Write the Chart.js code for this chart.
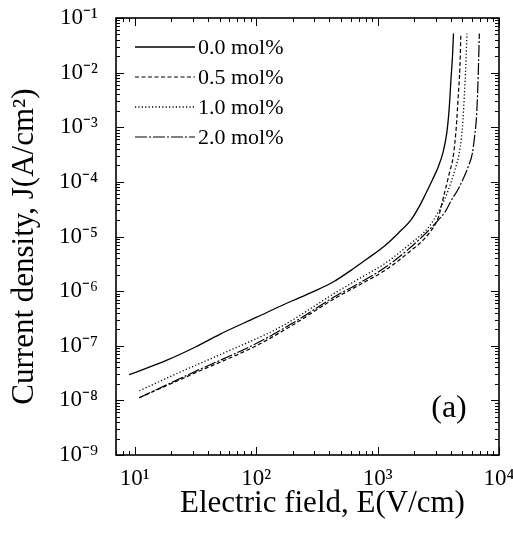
<!DOCTYPE html>
<html>
<head>
<meta charset="utf-8">
<script src="https://cdn.jsdelivr.net/npm/chart.js@4.4.1/dist/chart.umd.min.js"></script>
<style>
  html, body { margin: 0; padding: 0; background: #fff; }
  #wrap { width: 513px; height: 534px; }
</style>
</head>
<body>
<div id="wrap"><canvas id="jeChart" width="513" height="534"></canvas></div>
<script>
// legend names and axis titles
const seriesLabels = ['0.0 mol%', '0.5 mol%', '1.0 mol%', '2.0 mol%'];
const xTitle = 'Electric field, E(V/cm)';
const yTitle = 'Current density, J(A/cm²)';

// E (V/cm) / J (A/cm^2)
const e00 = [8.97, 18.2, 31.6, 50.1, 100, 178, 302, 437, 603, 832, 1148, 1479, 1905, 2239, 2512, 2818, 3162, 3467, 3715, 3890, 4027, 4140, 4217];
const j00 = [2.95e-8, 5.4e-8, 9.5e-8, 1.62e-7, 3.3e-7, 6.0e-7, 1.0e-6, 1.5e-6, 2.4e-6, 4.0e-6, 6.8e-6, 1.15e-5, 2.09e-5, 3.8e-5, 6.3e-5, 1.07e-4, 1.9e-4, 3.55e-4, 7.9e-4, 2.24e-3, 7.9e-3, 2.0e-2, 5.2e-2];

const e05 = [10.9, 31.6, 100, 200, 437, 708, 1148, 1778, 2630, 3162, 3467, 3890, 4217, 4446, 4624, 4764, 4853];
const j05 = [1.12e-8, 3.2e-8, 1.0e-7, 2.4e-7, 7.2e-7, 1.3e-6, 2.4e-6, 5.0e-6, 1.12e-5, 2.24e-5, 5.0e-5, 1.41e-4, 3.16e-4, 1.0e-3, 3.98e-3, 1.26e-2, 5.2e-2];

const e10 = [10.9, 25.1, 57.5, 158, 437, 708, 1148, 1778, 2630, 3162, 3597, 4074, 4416, 4699, 4898, 5047, 5188, 5321, 5445];
const j10 = [1.5e-8, 3.5e-8, 7.8e-8, 2.2e-7, 9.0e-7, 1.7e-6, 3.2e-6, 6.8e-6, 1.48e-5, 2.82e-5, 5.0e-5, 1.07e-4, 1.9e-4, 3.3e-4, 6.3e-4, 1.35e-3, 3.98e-3, 1.26e-2, 5.2e-2];

const e20 = [10.9, 31.6, 100, 200, 437, 708, 1148, 1778, 2630, 3162, 3597, 4074, 4571, 5129, 5623, 6026, 6310, 6531, 6683, 6792, 6887];
const j20 = [1.12e-8, 3.4e-8, 1.1e-7, 2.6e-7, 7.8e-7, 1.41e-6, 2.7e-6, 5.75e-6, 1.29e-5, 2.0e-5, 2.82e-5, 4.7e-5, 7.1e-5, 1.2e-4, 2.0e-4, 3.3e-4, 7.1e-4, 1.58e-3, 5.0e-3, 1.58e-2, 5.2e-2];

// decade ticks and their labels
const xDecades = [1e1, 1e2, 1e3, 1e4];
const xTickLabels = ['10¹', '10²', '10³', '10⁴'];
const yDecades = [1e-9, 1e-8, 1e-7, 1e-6, 1e-5, 1e-4, 1e-3, 1e-2, 1e-1];
const yTickLabels = ['10⁻⁹', '10⁻⁸', '10⁻⁷', '10⁻⁶', '10⁻⁵', '10⁻⁴', '10⁻³', '10⁻²', '10⁻¹'];

const serif = "'Liberation Serif', 'Times New Roman', serif";

function pts(xs, ys) {
  return xs.map((x, i) => ({ x: x, y: ys[i] }));
}

// decades + 2..9 minor ticks inside [min, max]
function logTicks(scale) {
  const list = [];
  const lo = scale.min, hi = scale.max;
  const first = Math.floor(Math.log10(lo)), last = Math.ceil(Math.log10(hi));
  for (let p = first; p <= last; p++) {
    for (let m = 1; m <= 9; m++) {
      const v = m * Math.pow(10, p);
      if (v >= lo * 0.999 && v <= hi * 1.001) list.push({ value: v, major: m === 1 });
    }
  }
  scale.ticks = list;
}

function decadeLabel(value, decades, labels) {
  for (let i = 0; i < decades.length; i++) {
    if (Math.abs(value / decades[i] - 1) < 1e-6) return labels[i];
  }
  return '';
}

// labels may hang over the edges, keep the plot box where it is
function noOverhang(s) {
  s.paddingTop = 0; s.paddingBottom = 0;
  s.paddingLeft = 0; s.paddingRight = 0;
}

// frame, inward tick marks on all four sides, legend, axis titles, panel tag
const frameTicks = {
  id: 'frameTicks',
  afterDraw(chart) {
    const { ctx, chartArea: a, scales } = chart;
    ctx.save();
    ctx.strokeStyle = '#000';
    ctx.lineWidth = 1;
    scales.x.ticks.forEach(t => {
      const px = Math.round(scales.x.getPixelForValue(t.value)) + 0.5;
      const len = t.major ? 8 : 4;
      ctx.beginPath();
      ctx.moveTo(px, a.bottom); ctx.lineTo(px, a.bottom - len);
      ctx.moveTo(px, a.top); ctx.lineTo(px, a.top + len);
      ctx.stroke();
    });
    scales.y.ticks.forEach(t => {
      const py = Math.round(scales.y.getPixelForValue(t.value)) + 0.5;
      const len = t.major ? 8 : 4;
      ctx.beginPath();
      ctx.moveTo(a.left, py); ctx.lineTo(a.left + len, py);
      ctx.moveTo(a.right, py); ctx.lineTo(a.right - len, py);
      ctx.stroke();
    });
    ctx.lineWidth = 1.6;
    ctx.strokeRect(a.left, a.top, a.right - a.left, a.bottom - a.top);

    ctx.font = '22px ' + serif;
    ctx.textBaseline = 'middle';
    ctx.fillStyle = '#000';
    chart.data.datasets.forEach((ds, i) => {
      const y = a.top + 29 + i * 30;
      const x0 = a.left + 19;
      ctx.lineWidth = ds.borderWidth;
      ctx.setLineDash(ds.borderDash || []);
      ctx.beginPath();
      ctx.moveTo(x0, y); ctx.lineTo(x0 + 60, y);
      ctx.stroke();
      ctx.setLineDash([]);
      ctx.fillText(ds.label, x0 + 63, y + 1);
    });

    ctx.font = '32px ' + serif;
    ctx.textAlign = 'center';
    ctx.fillText('(a)', a.right - 50, a.bottom - 46);

    // axis titles sit a bit off the box centre in the original
    ctx.font = '31px ' + serif;
    ctx.fillText(xTitle, (a.left + a.right) / 2 + 15, a.bottom + 49);
    ctx.translate(a.left - 91, (a.top + a.bottom) / 2 + 10);
    ctx.rotate(-Math.PI / 2);
    ctx.fillText(yTitle, 0, 0);
    ctx.restore();
  }
};

const styles = [
  { dash: [], width: 1.3 },
  { dash: [4, 2.5], width: 1.2 },
  { dash: [1.2, 2.2], width: 1.3 },
  { dash: [12, 2, 2, 2], width: 1.2 }
];
const series = [pts(e00, j00), pts(e05, j05), pts(e10, j10), pts(e20, j20)];

new Chart(document.getElementById('jeChart'), {
  type: 'line',
  data: {
    datasets: series.map((d, i) => ({
      label: seriesLabels[i],
      data: d,
      borderColor: '#000',
      borderWidth: styles[i].width,
      borderDash: styles[i].dash,
      pointRadius: 0,
      fill: false,
      cubicInterpolationMode: 'monotone'
    }))
  },
  options: {
    responsive: false,
    animation: false,
    layout: { padding: { top: 18, right: 14, left: 0, bottom: 0 } },
    plugins: { legend: { display: false }, tooltip: { enabled: false } },
    scales: {
      x: {
        type: 'logarithmic',
        min: 7,
        max: 10000,
        afterBuildTicks: logTicks,
        afterFit: s => { s.height = 79; noOverhang(s); },
        grid: { display: false, drawTicks: false },
        border: { display: false },
        ticks: {
          autoSkip: false,
          maxRotation: 0,
          padding: 10,
          color: '#000',
          font: { family: serif, size: 23 },
          callback: v => decadeLabel(v, xDecades, xTickLabels)
        },
        title: { display: false, text: xTitle }
      },
      y: {
        type: 'logarithmic',
        min: 1e-9,
        max: 1e-1,
        afterBuildTicks: logTicks,
        afterFit: s => { s.width = 116; noOverhang(s); },
        grid: { display: false, drawTicks: false },
        border: { display: false },
        ticks: {
          autoSkip: false,
          padding: 18,
          color: '#000',
          font: { family: serif, size: 23 },
          callback: v => decadeLabel(v, yDecades, yTickLabels)
        },
        title: { display: false, text: yTitle }
      }
    }
  },
  plugins: [frameTicks]
});
</script>
</body>
</html>
